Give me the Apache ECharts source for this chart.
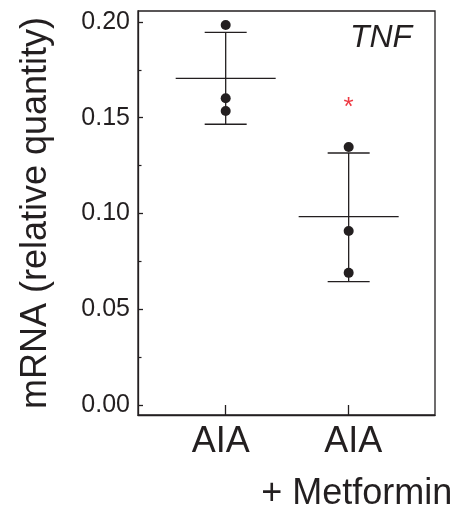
<!DOCTYPE html>
<html>
<head>
<meta charset="utf-8">
<script src="https://cdn.jsdelivr.net/npm/echarts@6/dist/echarts.min.js"></script>
<style>html,body{margin:0;padding:0;background:#fff;}#chart{width:461px;height:506px;}</style>
</head>
<body>
<div id="chart"></div>
<script>
// ---- data ----
const categories = ['AIA', 'AIA\n+ Metformin'];
const categoryX = [1, 2];
const aiaPoints = [0.1984, 0.1602, 0.1535];
const metforminPoints = [0.1347, 0.0909, 0.0690];
const groupMeans = [0.1706, 0.0984];
const errLow = [0.1466, 0.0644];
const errHigh = [0.1946, 0.1316];
const yTicks = [0, 0.05, 0.10, 0.15, 0.20];
const yMinorTicks = [0.025, 0.075, 0.125, 0.175];
const geneLabel = 'TNF';
const yTitle = 'mRNA (relative quantity)';
const significance = [[2, 0.1579, '*']];

const INK = '#231f20';
const FONT = '"Liberation Sans", Arial, Helvetica, sans-serif';

const pointData = [];
aiaPoints.forEach(v => pointData.push([categoryX[0], v]));
metforminPoints.forEach(v => pointData.push([categoryX[1], v]));

const errData = categoryX.map((x, i) => [x, groupMeans[i], errLow[i], errHigh[i]]);

// label lines of each category
const line1 = categories.map(c => c.split('\n')[0]);
const line2 = categories.map(c => c.split('\n')[1] || '');
const line2Values = categoryX.filter((x, i) => line2[i] !== '');

const chart = echarts.init(document.getElementById('chart'), null, {renderer: 'canvas'});

const X_MIN = 0.287, X_MAX = 2.702;

chart.setOption({
  animation: false,
  backgroundColor: '#fff',
  grid: {left: 138, right: 26, top: 11, bottom: 91, outerBoundsMode: 'none', containLabel: false,
    show: true, borderColor: INK, borderWidth: 1.3, backgroundColor: 'transparent'},
  xAxis: [{
    type: 'value', min: X_MIN, max: X_MAX, position: 'bottom', offset: 0,
    axisLine: {show: true, onZero: false, lineStyle: {color: INK, width: 1.3}},
    splitLine: {show: false},
    axisTick: {show: true, inside: true, length: 10, customValues: categoryX, lineStyle: {color: INK, width: 1.3}},
    axisLabel: {
      customValues: categoryX,
      margin: 9,
      showMinLabel: true, showMaxLabel: true,
      formatter: function (v) {
        const i = categoryX.indexOf(Math.round(v));
        return (i === 0 ? '{l|' : '{r|') + line1[i] + '}';
      },
      rich: {
        l: {fontSize: 36, fontFamily: FONT, color: INK, padding: [0, 10, 0, 0]},
        r: {fontSize: 36, fontFamily: FONT, color: INK, padding: [0, 0, 0, 9]}
      }
    }
  }, {
    type: 'value', min: X_MIN, max: X_MAX, position: 'bottom', offset: 0,
    axisLine: {show: false, onZero: false},
    splitLine: {show: false},
    axisTick: {show: false},
    axisLabel: {
      customValues: line2Values,
      margin: 61,
      showMinLabel: true, showMaxLabel: true,
      fontSize: 36, fontFamily: FONT, color: INK,
      padding: [0, 0, 0, 16],
      formatter: function (v) {
        const i = categoryX.indexOf(Math.round(v));
        return line2[i];
      }
    }
  }],
  yAxis: [{
    type: 'value', min: -0.00522, max: 0.20574, position: 'left', offset: 0,
    axisLine: {show: true, onZero: false, lineStyle: {color: INK, width: 1.3}},
    splitLine: {show: false},
    axisTick: {show: true, inside: true, length: 5, customValues: yTicks, lineStyle: {color: INK, width: 1.3}},
    axisLabel: {customValues: yTicks, margin: 8, fontSize: 25, fontFamily: FONT, color: INK,
      showMinLabel: true, showMaxLabel: true,
      formatter: v => v.toFixed(2)}
  }, {
    type: 'value', min: -0.00522, max: 0.20574, position: 'left', offset: 0,
    axisLine: {show: false, onZero: false},
    splitLine: {show: false},
    axisTick: {show: true, inside: true, length: 3.5, customValues: yMinorTicks, lineStyle: {color: INK, width: 1.2}},
    axisLabel: {show: false}
  }],
  graphic: [{
    type: 'text', x: 36, y: 213, rotation: Math.PI / 2,
    style: {text: yTitle, font: '36px ' + FONT, fill: INK, align: 'center', verticalAlign: 'middle'}
  }, {
    type: 'text', x: 381, y: 38,
    style: {text: geneLabel, font: 'italic 32px ' + FONT, fill: INK, align: 'center', verticalAlign: 'middle'}
  }],
  series: [{
    type: 'custom',
    xAxisIndex: 0, yAxisIndex: 0,
    data: errData,
    z: 2,
    renderItem: function (params, api) {
      const x = api.value(0);
      const m = api.coord([x, api.value(1)]);
      const lo = api.coord([x, api.value(2)]);
      const hi = api.coord([x, api.value(3)]);
      const meanHalf = 50, capHalf = 21;
      const st = {stroke: INK, lineWidth: 1.3};
      return {
        type: 'group',
        children: [
          {type: 'line', shape: {x1: m[0] - meanHalf, y1: m[1], x2: m[0] + meanHalf, y2: m[1]}, style: st},
          {type: 'line', shape: {x1: lo[0], y1: lo[1], x2: hi[0], y2: hi[1]}, style: st},
          {type: 'line', shape: {x1: lo[0] - capHalf, y1: lo[1], x2: lo[0] + capHalf, y2: lo[1]}, style: st},
          {type: 'line', shape: {x1: hi[0] - capHalf, y1: hi[1], x2: hi[0] + capHalf, y2: hi[1]}, style: st}
        ]
      };
    }
  }, {
    type: 'scatter',
    xAxisIndex: 0, yAxisIndex: 0,
    data: pointData,
    symbol: 'circle', symbolSize: 10,
    itemStyle: {color: INK, opacity: 1},
    z: 3
  }, {
    type: 'custom',
    xAxisIndex: 0, yAxisIndex: 0,
    data: significance,
    z: 4,
    renderItem: function (params, api) {
      const p = api.coord([api.value(0), api.value(1)]);
      return {
        type: 'text', x: p[0], y: p[1] + 5,
        style: {text: String(significance[params.dataIndex][2]), font: '26px ' + FONT, fill: '#ee3a43', align: 'center', verticalAlign: 'middle'}
      };
    }
  }]
});
</script>
</body>
</html>
